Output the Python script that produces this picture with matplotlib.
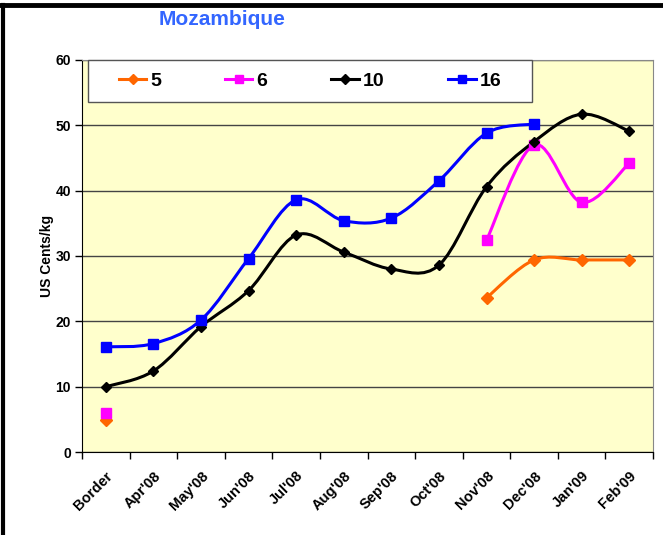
import numpy as np
import matplotlib
matplotlib.use("Agg")
import matplotlib.pyplot as plt
import matplotlib.transforms as mtransforms
from matplotlib.path import Path
from matplotlib.patches import PathPatch, Rectangle
from matplotlib.lines import Line2D

plt.rcParams['font.family'] = ['Liberation Sans', 'DejaVu Sans']

# donnees
mois = ["Border", "Apr'08", "May'08", "Jun'08", "Jul'08", "Aug'08",
        "Sep'08", "Oct'08", "Nov'08", "Dec'08", "Jan'09", "Feb'09"]
nan = np.nan
s5 = [4.9, nan, nan, nan, nan, nan, nan, nan, 23.6, 29.4, 29.4, 29.4]
s6 = [6.0, nan, nan, nan, nan, nan, nan, nan, 32.4, 47.0, 38.2, 44.2]
s10 = [10.0, 12.4, 19.2, 24.7, 33.2, 30.6, 28.0, 28.6, 40.6, 47.5, 51.7, 49.1]
s16 = [16.1, 16.6, 20.2, 29.6, 38.6, 35.4, 35.8, 41.5, 48.8, 50.2, nan, nan]

series = [("5", s5, "#FF6600", "D", 6),
          ("6", s6, "#FF00FF", "s", 7),
          ("10", s10, "black", "D", 5.5),
          ("16", s16, "#0000FF", "s", 7)]


def courbe_lissee(ax, xs, ys, couleur):
    # segment lisse type Excel (Catmull-Rom en Bezier)
    n = len(xs)
    if n < 2:
        return
    pts = np.column_stack([xs, ys])
    verts = [pts[0]]
    codes = [Path.MOVETO]
    for i in range(n - 1):
        p0 = pts[i - 1] if i > 0 else pts[i]
        p1 = pts[i]
        p2 = pts[i + 1]
        p3 = pts[i + 2] if i + 2 < n else pts[i + 1]
        verts += [p1 + (p2 - p0) / 6.0, p2 - (p3 - p1) / 6.0, p2]
        codes += [Path.CURVE4] * 3
    ax.add_patch(PathPatch(Path(verts, codes), fill=False, edgecolor=couleur,
                           lw=2.2, zorder=3, capstyle='round', joinstyle='round'))


fig = plt.figure(figsize=(6.63, 5.35), dpi=100)
ax = fig.add_axes([0.1237, 0.155, 0.8613, 0.733])
ax.set_facecolor("#FFFFCC")

x = np.arange(len(mois))
handles = []
for nom, vals, couleur, mk, ms in series:
    v = np.array(vals, dtype=float)
    ok = ~np.isnan(v)
    # decoupage en morceaux continus
    debut = None
    for i in range(len(v) + 1):
        if i < len(v) and ok[i]:
            if debut is None:
                debut = i
        else:
            if debut is not None:
                courbe_lissee(ax, x[debut:i], v[debut:i], couleur)
                debut = None
    ax.plot(x[ok], v[ok], linestyle='none', marker=mk, ms=ms, color=couleur,
            markeredgecolor=couleur, zorder=4)
    handles.append(Line2D([], [], color=couleur, lw=2.2, marker=mk, ms=ms * 0.85,
                          markeredgecolor=couleur))

ax.set_xlim(-0.5, len(mois) - 0.5)
ax.set_ylim(0, 60)
ax.set_yticks(range(0, 61, 10))
ax.yaxis.grid(True, color="#444444", lw=1)
ax.set_axisbelow(True)
ax.set_xticks(x)
ax.set_xticklabels(mois, rotation=45, ha='right', rotation_mode='anchor',
                   fontsize=10.5, fontweight='bold')
decal = mtransforms.ScaledTranslation(-6 / 100, 0, fig.dpi_scale_trans)
for lab in ax.get_xticklabels():
    lab.set_transform(lab.get_transform() + decal)
ax.tick_params(axis='x', which='major', length=0, pad=12)
ax.set_xticks(np.arange(-0.5, len(mois)), minor=True)
ax.tick_params(axis='x', which='minor', length=5, width=1, direction='out')
ax.tick_params(axis='y', length=5, width=1, labelsize=10, pad=3)
for lab in ax.get_yticklabels():
    lab.set_fontweight('bold')
ax.set_ylabel("US Cents/kg", fontsize=10, fontweight='bold', labelpad=1)

for cote in ['top', 'right']:
    ax.spines[cote].set_color("#888888")
ax.spines['left'].set_color("black")
ax.spines['bottom'].set_color("black")

# cadre de la legende
boite = (0.0105, 0.893, 0.778, 0.107)
ax.add_patch(Rectangle(boite[:2], boite[2], boite[3], transform=ax.transAxes,
                       facecolor='white', edgecolor="#555555", lw=1, zorder=5,
                       clip_on=False))
leg = ax.legend(handles, ["5", "6", "10", "16"], ncol=4, loc='center',
                bbox_to_anchor=(boite[0] + boite[2] / 2, boite[1] + boite[3] / 2),
                frameon=False, prop={'weight': 'bold', 'size': 14},
                handlelength=1.4, handletextpad=0.2, columnspacing=3.3,
                borderaxespad=0, borderpad=0)
leg.set_zorder(6)

fig.text(0.335, 0.964, "Mozambique", color="#3366FF", fontsize=15,
         fontweight='bold', ha='center', va='center')

# cadre epais du haut et de gauche
fig.add_artist(Line2D([0, 1], [0.99, 0.99], color='black', lw=3.5,
                      transform=fig.transFigure))
fig.add_artist(Line2D([0.004, 0.004], [0, 0.99], color='black', lw=3,
                      transform=fig.transFigure))

fig.savefig("out.png", dpi=100)
